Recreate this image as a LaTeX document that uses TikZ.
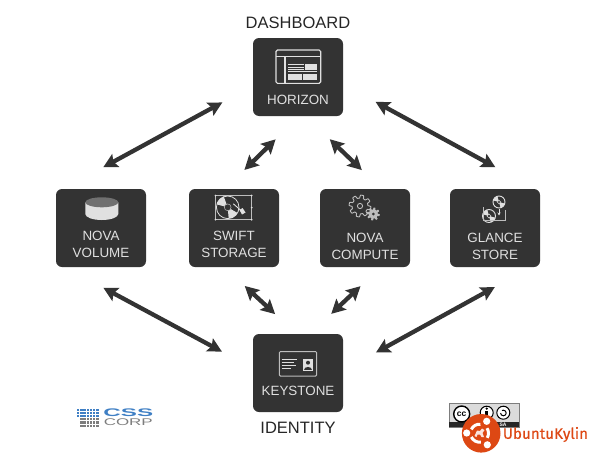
\documentclass[tikz,border=0pt]{standalone}
\usepackage{fontspec}
\setmainfont{Liberation Sans}
\newfontfamily\logofont[FakeBold=0.35]{Fira Sans}
\usetikzlibrary{arrows.meta}
\definecolor{boxgray}{HTML}{333333}
\definecolor{iconlight}{HTML}{E0E0E0}
\definecolor{iconmid}{HTML}{BDBDBD}
\definecolor{cssblue}{HTML}{3F7FC4}
\definecolor{cssgray}{HTML}{7D7D7D}
\definecolor{ubuorange}{HTML}{DD4814}
\tikzset{
  service/.style={draw=none, fill=boxgray, rounded corners=6pt, minimum width=90pt, minimum height=78pt, inner sep=0pt, outer sep=0pt},
  boxlabel/.style={text=iconlight, font=\fontsize{13.4}{15}\selectfont, inner sep=0pt},
  grouplabel/.style={text=black!85, font=\fontsize{16.5}{18}\selectfont, inner sep=0pt},
  biarrow/.style={draw=boxgray, line width=4.3pt, {Stealth[length=14pt,width=14.5pt,inset=2.5pt]}-{Stealth[length=14pt,width=14.5pt,inset=2.5pt]}},
  iconline/.style={draw=iconlight, line width=1.1pt},
  iconthin/.style={draw=iconmid, line width=0.7pt}
}
% disc with two light wedges: x, y, radius
\newcommand{\discicon}[3]{
  \draw[iconlight, line width=0.9pt] (#1,#2) circle (#3);
  \fill[iconlight] (#1,#2) -- ++(195:#3) arc[start angle=195, end angle=255, radius=#3] -- cycle;
  \fill[iconlight] (#1,#2) -- ++(15:#3) arc[start angle=15, end angle=75, radius=#3] -- cycle;
  \fill[boxgray] (#1,#2) circle ({0.3*#3});
  \draw[iconlight, line width=0.5pt] (#1,#2) circle ({0.3*#3});
}
\begin{document}
\begin{tikzpicture}[x=1pt, y=-1pt]
\useasboundingbox (0,0) rectangle (595,458);
% service boxes
\node[service] (horizon) at (298,77) {};
\node[service] (volume) at (101,228) {};
\node[service] (swift) at (234,228) {};
\node[service] (compute) at (365,228) {};
\node[service] (glance) at (495,228) {};
\node[service] (keystone) at (298,373) {};
% labels
\node[grouplabel] (dashboard) at (298,23) {DASHBOARD};
\node[grouplabel] (identity) at (298,428) {IDENTITY};
\node[boxlabel] (horizonlab) at (298,100) {HORIZON};
\node[boxlabel] (volumelab) at (101,244.5) [align=center] {NOVA\\[2pt]VOLUME};
\node[boxlabel] (swiftlab) at (234,244.5) [align=center] {SWIFT\\[2pt]STORAGE};
\node[boxlabel] (computelab) at (365,246.5) [align=center] {NOVA\\[2pt]COMPUTE};
\node[boxlabel] (glancelab) at (495,246.5) [align=center] {GLANCE\\[2pt]STORE};
\node[boxlabel] (keystonelab) at (298,391) {KEYSTONE};
% connectors, upper ring
\draw[biarrow, shorten <=34.9pt, shorten >=45.5pt] (horizon.191.3) -- (volume.134);
\draw[biarrow, shorten <=33.3pt, shorten >=27.2pt] (horizon.272.2) -- (swift.103.1);
\draw[biarrow, shorten <=33.5pt, shorten >=27.3pt] (horizon.281.5) -- (compute.67.3);
\draw[biarrow, shorten <=37.1pt, shorten >=45.6pt] (horizon.351.7) -- (glance.44.6);
% connectors, lower ring
\draw[biarrow, shorten <=44pt, shorten >=35.3pt] (volume.227.5) -- (keystone.174.7);
\draw[biarrow, shorten <=27.9pt, shorten >=29.3pt] (swift.256.4) -- (keystone.92.3);
\draw[biarrow, shorten <=27.9pt, shorten >=29.3pt] (compute.292.8) -- (keystone.73.4);
\draw[biarrow, shorten <=41.7pt, shorten >=37.6pt] (glance.313.2) -- (keystone.3.8);
% horizon icon
\draw[iconline, rounded corners=1.5pt] (276,50) rectangle (320.7,83.3);
\draw[iconline] (276,56.7) -- (320.7,56.7);
\draw[iconline] (285,56.7) -- (285,83.3);
\foreach \y in {64.3,67,69.7} {
  \draw[iconlight, line width=0.8pt] (288,\y) -- (304,\y);
}
\fill[iconlight] (305.3,64) rectangle (317.3,69.6);
\draw[iconlight, line width=0.8pt] (288,71.8) -- (317.3,71.8);
\fill[iconlight] (288.3,74.3) rectangle (302,80.3);
\fill[iconlight] (303.3,74.3) rectangle (317.3,80.3);
% volume icon
\fill[iconlight] (85.3,202.3) -- (85.3,214) arc[start angle=180, end angle=0, x radius=16.5, y radius=6] -- (118.3,202.3) -- cycle;
\fill[cssgray!90!black] (101.8,202.3) ellipse (16.5 and 5);
% swift icon
\draw[iconthin] (215.5,195.5) rectangle (251.7,219.7);
\foreach \x/\y in {215.5/195.5, 251.7/195.5, 215.5/219.7, 251.7/219.7, 251.7/207.6} {
  \fill[iconlight] (\x,\y) circle (1);
}
\draw[iconlight, line width=0.8pt] (227.7,207.3) circle (11.3);
\fill[iconlight] (227.7,207.3) -- ++(195:11.3) arc[start angle=195, end angle=250, radius=11.3] -- cycle;
\fill[iconlight] (227.7,207.3) -- ++(30:11.3) arc[start angle=30, end angle=85, radius=11.3] -- cycle;
\fill[boxgray] (227.7,207.3) circle (3.4);
\draw[iconmid, line width=0.5pt] (227.7,207.3) circle (3.4);
\draw[iconlight, line width=0.9pt] (233.3,203.8) -- (241,210.5);
\fill[iconlight] (239.5,210) -- (242.5,208) -- (245.5,212.5) -- (242,214.5) -- cycle;
% compute icon
\begin{scope}[shift={(360,206)}]
\draw[iconmid, line width=0.9pt] plot[domain=0:360, samples=145, smooth] (\x:{9.4+1.5*max(-1,min(1,2.5*sin(8*\x)))});
\draw[iconmid, line width=0.9pt] (0,0) circle (2.6);
\end{scope}
\begin{scope}[shift={(373.3,214)}]
\fill[iconmid] plot[domain=0:360, samples=145] (\x:{5.5+1*max(-1,min(1,2.5*sin(8*\x)))});
\fill[boxgray] (0,0) circle (1.5);
\end{scope}
% glance icon
\discicon{499}{202}{6}
\discicon{489}{216}{6.5}
\draw[iconthin] (483.3,207) -- (483.3,220.3) -- (505.7,220.3) -- (505.7,210);
\draw[iconlight, line width=0.8pt, -{Stealth[length=3pt,width=3pt]}] (499,209) -- (499,215.5);
% keystone icon
\draw[iconthin, rounded corners=1pt, line width=1pt] (279.3,351.7) rectangle (316.7,376);
\foreach \y/\e in {359.7/297, 362.3/294, 365/296, 368/291} {
  \draw[iconlight, line width=0.8pt] (281.7,\y) -- (\e,\y);
}
\fill[iconlight] (302.7,359) rectangle (313.3,371);
\fill[boxgray] (308,362.7) circle (2);
\fill[boxgray] (304,370) .. controls (304,365.5) and (312,365.5) .. (312,370) -- cycle;
% css logo
\foreach \y in {408.5,411.7,414.9} {
  \foreach \x in {77,80.2,83.4,86.6,89.8,93,96.2} {
    \fill[cssblue] (\x,\y) rectangle +(2.3,2.3);
  }
}
\foreach \y in {418.1,421.3,424.5} {
  \foreach \x in {80.2,83.4,86.6,89.8,93,96.2} {
    \fill[cssgray] (\x,\y) rectangle +(2.3,2.3);
  }
}
\node[text=cssblue, inner sep=0pt, font=\fontsize{11}{11}\selectfont\bfseries] (csstext) at (128.3,412.8) {\scalebox{2.2}[1]{CSS}};
\node[text=cssgray, inner sep=0pt, font=\fontsize{9.7}{10}\selectfont] (corptext) at (128.3,422.5) {\scalebox{1.75}[1]{CORP}};
% licence badge
\draw[draw=cssgray, fill=black!14, line width=0.7pt] (449.3,403.3) rectangle (519.3,427.3);
\fill[black!85] (449.3,421.7) rectangle (519.3,427.3);
\node[circle, draw=black, fill=white, line width=1.4pt, minimum size=16pt, inner sep=0pt, font=\bfseries\fontsize{8.5}{9}\selectfont] (ccmark) at (461.7,414) {cc};
\node[circle, draw=black, fill=white, line width=1pt, minimum size=13pt, inner sep=0pt] (bymark) at (486.7,412.7) {};
\fill[black] (486.7,408.6) circle (1.3);
\fill[black] (485,410.5) rectangle (488.4,417);
\node[circle, draw=black, fill=white, line width=1pt, minimum size=13pt, inner sep=0pt] (samark) at (503.3,412.7) {};
\draw[black, line width=1pt] (500.6,413) arc[start angle=180, end angle=-120, radius=2.8];
\node[text=white, inner sep=0pt, font=\bfseries\fontsize{5}{5}\selectfont] (salab) at (503,424.6) {SA};
% ubuntu kylin logo
\node[circle, fill=ubuorange, minimum size=38.6pt, inner sep=0pt] (ubuntu) at (481.2,433.3) {};
\foreach \a/\b in {-34/31, 81/155, 205/276} {
  \draw[white, line width=3pt] (479.5,433.2) ++(\a:9) arc[start angle=\a, end angle=\b, radius=9];
}
\foreach \x/\y in {486.7/421.3, 466.7/433, 487.3/444.8} {
  \fill[white] (\x,\y) circle (3.6);
}
\fill[white!85!ubuorange] (474.5,436) -- (477,430.5) -- (480,431) -- (482,428.5) -- (484.5,430) -- (482.5,433) -- (484,437) -- (481.5,437) -- (480,434.5) -- (477.5,434.5) -- (476.5,437) -- cycle;
\node[text=ubuorange, anchor=west, inner sep=0pt, font=\logofont\fontsize{15.2}{16}\selectfont] (ubuntutext) at (502.7,434.5) {UbuntuKylin};
\end{tikzpicture}
\end{document}
